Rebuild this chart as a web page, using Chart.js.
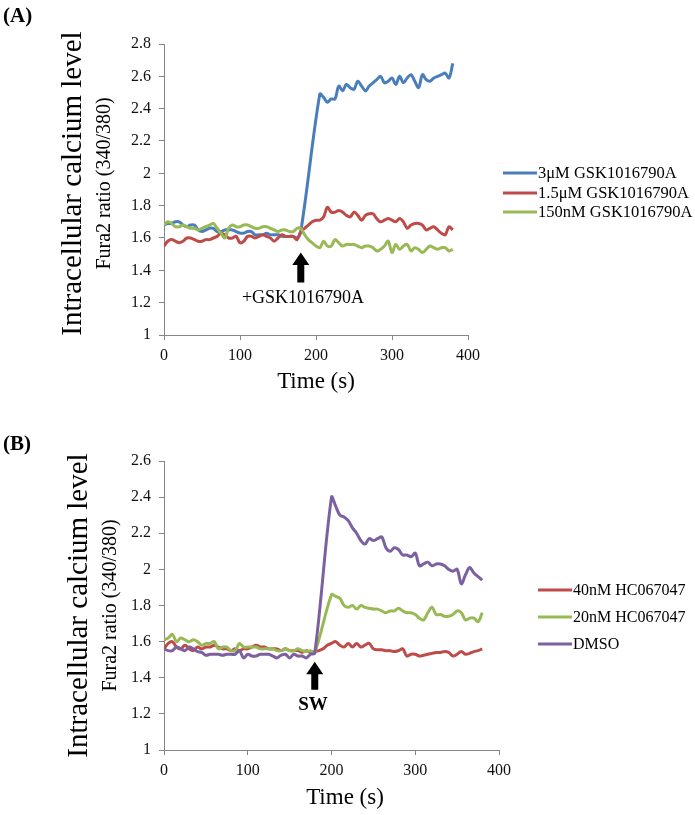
<!DOCTYPE html>
<html lang="en">
<head>
<meta charset="UTF-8">
<title>Intracellular calcium level</title>
<script src="https://cdn.jsdelivr.net/npm/chart.js@4.4.0/dist/chart.umd.min.js"></script>
<style>
  body { margin: 0; background: #fff; }
  .panel { position: relative; width: 695px; }
</style>
</head>
<body>
<div class="panel"><canvas id="chartA" width="695" height="400"></canvas></div>
<div class="panel"><canvas id="chartB" width="695" height="415"></canvas></div>

<script>
// time points (s), shared by every trace
const timeSec = [0,5,10,15,20,25,30,35,40,45,50,55,60,65,70,75,80,85,90,95,
  100,105,110,115,120,125,130,135,140,145,150,155,160,165,170,175,180,185,190,195,
  200,205,210,215,220,225,230,235,240,245,250,255,260,265,270,275,280,285,290,295,
  300,305,310,315,320,325,330,335,340,345,350,355,360,365,370,375,380];

// panel A
const labelsA = ['3\u03bcM GSK1016790A', '1.5\u03bcM GSK1016790A', '150nM GSK1016790A'];
const gsk3uM = [1.68,1.69,1.69,1.70,1.70,1.68,1.67,1.68,1.68,1.65,
  1.64,1.65,1.66,1.66,1.64,1.64,1.65,1.65,1.65,1.64,
  1.63,1.63,1.64,1.64,1.62,1.62,1.62,1.63,1.62,1.62,
  1.62,1.61,1.61,1.61,1.61,1.60,1.64,null,null,null,
  null,2.49,2.47,2.44,2.46,2.46,2.54,2.51,2.55,2.53,
  2.52,2.57,2.54,2.51,2.54,2.56,2.58,2.60,2.56,2.57,
  2.59,2.55,2.60,2.56,2.59,2.61,2.57,2.53,2.61,2.58,
  2.57,2.59,2.60,2.61,2.62,2.59,2.68];
const gsk15uM = [1.55,1.58,1.59,1.58,1.57,1.58,1.60,1.60,1.59,1.58,
  1.58,1.59,1.59,1.60,1.61,1.63,1.62,1.60,1.60,1.61,
  1.57,1.58,1.61,1.61,1.60,1.61,1.62,1.61,1.60,1.58,
  1.60,1.62,1.61,1.61,1.61,1.59,1.64,1.66,1.68,1.70,
  1.71,1.71,1.73,1.79,1.76,1.76,1.77,1.76,1.74,1.73,
  1.76,1.74,1.71,1.74,1.75,1.75,1.72,1.70,1.71,1.72,
  1.71,1.70,1.72,1.70,1.66,1.68,1.69,1.69,1.68,1.65,
  1.66,1.67,1.65,1.63,1.62,1.67,1.65];
const gsk150nM = [1.68,1.70,1.69,1.67,1.67,1.68,1.67,1.66,1.66,1.65,
  1.66,1.67,1.68,1.69,1.66,1.63,1.60,1.66,1.68,1.67,
  1.67,1.68,1.68,1.67,1.66,1.66,1.67,1.67,1.66,1.65,
  1.64,1.65,1.65,1.64,1.64,1.66,1.66,1.62,1.59,1.57,
  1.55,1.54,1.58,1.55,1.55,1.59,1.57,1.55,1.56,1.56,
  1.56,1.55,1.54,1.55,1.55,1.54,1.52,1.53,1.55,1.58,
  1.51,1.56,1.53,1.55,1.56,1.52,1.54,1.53,1.51,1.53,
  1.55,1.54,1.53,1.54,1.54,1.52,1.53];
const yTicksA = [1, 1.2, 1.4, 1.6, 1.8, 2, 2.2, 2.4, 2.6, 2.8];

// panel B
const labelsB = ['40nM HC067047', '20nM HC067047', 'DMSO'];
const hc40nM = [1.56,1.59,1.60,1.57,1.56,1.58,1.56,1.55,1.57,1.56,
  1.57,1.57,1.58,1.57,1.56,1.56,1.55,1.56,1.55,1.56,
  1.56,1.57,1.58,1.57,1.57,1.56,1.56,1.56,1.55,1.56,
  1.55,1.55,1.55,1.54,1.55,1.54,1.545,1.55,1.56,1.58,
  1.59,1.60,1.58,1.57,1.59,1.57,1.59,1.57,1.58,1.59,
  1.56,1.555,1.555,1.55,1.55,1.545,1.55,1.56,1.52,1.53,
  1.53,1.52,1.525,1.53,1.535,1.54,1.54,1.545,1.54,1.52,
  1.53,1.545,1.53,1.535,1.545,1.55,1.56];
const hc20nM = [1.61,1.62,1.64,1.60,1.62,1.61,1.60,1.61,1.60,1.58,
  1.59,1.59,1.60,1.56,1.57,1.57,1.55,1.55,1.59,1.57,
  1.57,1.57,1.57,1.56,1.56,1.56,1.56,1.55,1.55,1.56,
  1.55,1.55,1.56,1.55,1.545,1.55,1.54,null,null,null,
  1.86,1.85,1.84,1.80,1.79,1.80,1.78,1.80,1.79,1.785,
  1.78,1.78,1.77,1.76,1.77,1.77,1.785,1.77,1.76,1.76,
  1.75,1.73,1.72,1.76,1.79,1.75,1.75,1.74,1.74,1.75,
  1.77,1.76,1.72,1.73,1.73,1.71,1.76];
const dmso = [1.56,1.55,1.55,1.57,1.56,1.55,1.57,1.56,1.545,1.54,
  1.525,1.53,1.53,1.53,1.525,1.53,1.53,1.53,1.55,1.51,
  1.53,1.52,1.52,1.53,1.53,1.53,1.52,1.51,1.525,1.53,
  1.51,1.53,1.52,1.52,1.51,1.53,1.535,null,null,null,
  2.40,2.35,2.30,2.29,2.27,2.23,2.20,2.16,2.14,2.17,
  2.16,2.17,2.18,2.12,2.10,2.12,2.11,2.08,2.08,2.07,
  2.09,2.02,2.03,2.04,2.02,2.03,2.03,2.02,2.00,1.99,
  2.00,1.92,1.97,2.01,1.98,1.96,1.94];
const yTicksB = [1, 1.2, 1.4, 1.6, 1.8, 2, 2.2, 2.4, 2.6];

const xTicks = [0, 100, 200, 300, 400];

const serif = "'Liberation Serif', 'Times New Roman', serif";
const axisGray = '#868686';

function pts(vals) {
  return timeSec.map((t, i) => ({ x: t, y: vals[i] }));
}

// extra text, arrow and legend drawn over the chart
const extras = {
  id: 'extras',
  afterDraw(chart, args, o) {
    const ctx = chart.ctx, xs = chart.scales.x, ys = chart.scales.y, a = chart.chartArea;
    ctx.save();
    ctx.fillStyle = '#000';

    ctx.font = 'bold 21px ' + serif;
    ctx.textAlign = 'left';
    ctx.textBaseline = 'middle';
    ctx.fillText(o.panel, 3, o.panelY);

    const cy = (a.top + a.bottom) / 2 + o.labelShift;
    ctx.save();
    ctx.translate(o.bigX, cy);
    ctx.rotate(-Math.PI / 2);
    ctx.textAlign = 'center';
    ctx.textBaseline = 'alphabetic';
    ctx.font = '29px ' + serif;
    ctx.fillText('Intracellular calcium level', 0, 0);
    ctx.restore();

    ctx.save();
    ctx.translate(o.smallX, cy);
    ctx.rotate(-Math.PI / 2);
    ctx.textAlign = 'center';
    ctx.textBaseline = 'alphabetic';
    ctx.font = '20px ' + serif;
    ctx.fillText('Fura2 ratio (340/380)', 0, 0);
    ctx.restore();

    ctx.textAlign = 'center';
    ctx.textBaseline = 'middle';
    ctx.font = '23px ' + serif;
    ctx.fillText('Time (s)', o.timeX, o.timeY);

    // arrow at the time of addition
    const ax = xs.getPixelForValue(o.arrowAt);
    const yTop = ys.getPixelForValue(o.arrowTop);
    const yBot = ys.getPixelForValue(o.arrowBottom);
    ctx.beginPath();
    ctx.moveTo(ax, yTop);
    ctx.lineTo(ax + 8.5, yTop + 12.5);
    ctx.lineTo(ax + 3.5, yTop + 12.5);
    ctx.lineTo(ax + 3.5, yBot);
    ctx.lineTo(ax - 3.5, yBot);
    ctx.lineTo(ax - 3.5, yTop + 12.5);
    ctx.lineTo(ax - 8.5, yTop + 12.5);
    ctx.closePath();
    ctx.fill();

    ctx.font = o.noteFont + ' ' + serif;
    ctx.fillText(o.note, o.noteX, o.noteY);

    // legend
    ctx.textAlign = 'left';
    ctx.font = o.legendFont + ' ' + serif;
    chart.data.datasets.forEach((ds, i) => {
      const y = o.legendY[i];
      ctx.strokeStyle = ds.borderColor;
      ctx.lineWidth = 3;
      ctx.beginPath();
      ctx.moveTo(o.legendX, y);
      ctx.lineTo(o.legendX + 34, y);
      ctx.stroke();
      ctx.fillStyle = '#000';
      ctx.fillText(ds.label, o.legendX + 35, y + 1);
    });
    ctx.restore();
  }
};

function makeChart(id, labels, series, colors, yTicks, rightPad, topPad, extraOpts) {
  const n = series.length;
  return new Chart(document.getElementById(id), {
    type: 'line',
    data: {
      datasets: series.map((vals, i) => ({
        label: labels[i],
        data: pts(vals),
        borderColor: colors[i],
        borderWidth: 3,
        pointRadius: 0,
        tension: 0.35,
        spanGaps: true,
        fill: false,
        order: n - i
      }))
    },
    options: {
      responsive: false,
      animation: false,
      layout: { padding: { left: 0, right: rightPad, top: topPad, bottom: 0 } },
      plugins: {
        legend: { display: false },
        tooltip: { enabled: false },
        extras: extraOpts
      },
      scales: {
        x: {
          type: 'linear',
          min: 0,
          max: 400,
          afterBuildTicks: s => { s.ticks = xTicks.map(v => ({ value: v })); },
          afterFit: s => { s.height = 65; },
          grid: { drawOnChartArea: false, color: axisGray, tickLength: 5 },
          border: { color: axisGray, width: 1 },
          ticks: { color: '#111', font: { family: serif, size: 16 }, padding: 6, maxRotation: 0 }
        },
        y: {
          type: 'linear',
          min: yTicks[0],
          max: yTicks[yTicks.length - 1],
          afterBuildTicks: s => { s.ticks = yTicks.map(v => ({ value: v })); },
          afterFit: s => { s.width = 164; },
          grid: { drawOnChartArea: false, color: axisGray, tickLength: 5 },
          border: { color: axisGray, width: 1 },
          ticks: {
            color: '#111',
            font: { family: serif, size: 16 },
            padding: 8,
            callback: v => String(Number(v.toFixed(1)))
          }
        }
      }
    },
    plugins: [extras]
  });
}

makeChart('chartA', labelsA, [gsk3uM, gsk15uM, gsk150nM],
  ['#4a7ebb', '#be4b48', '#98b954'], yTicksA, 227, 44, {
    panel: '(A)', panelY: 17, bigX: 81, smallX: 110, labelShift: -6,
    timeX: 316, timeY: 382,
    arrowAt: 180, arrowTop: 1.51, arrowBottom: 1.325,
    note: '+GSK1016790A', noteFont: '18px', noteX: 303, noteY: 298,
    legendX: 503, legendY: [173, 193, 212], legendFont: '16.5px'
  });

makeChart('chartB', labelsB, [hc40nM, hc20nM, dmso],
  ['#be4b48', '#98b954', '#7d60a0'], yTicksB, 196, 61, {
    panel: '(B)', panelY: 45, bigX: 87, smallX: 116, labelShift: 0,
    timeX: 345, timeY: 398,
    arrowAt: 180, arrowTop: 1.488, arrowBottom: 1.333,
    note: 'SW', noteFont: 'bold 19px', noteX: 313, noteY: 305,
    legendX: 538, legendY: [190, 217, 244], legendFont: '16px'
  });
</script>
</body>
</html>
